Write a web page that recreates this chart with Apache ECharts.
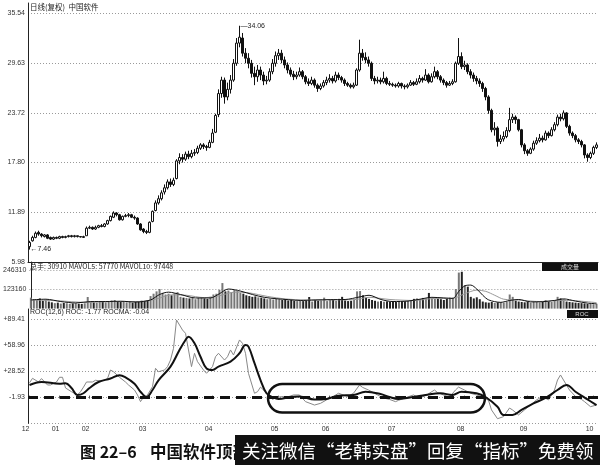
<!DOCTYPE html>
<html><head><meta charset="utf-8">
<script src="https://cdn.jsdelivr.net/npm/echarts@6/dist/echarts.min.js"></script>
<style>html,body{margin:0;padding:0;background:#fff}#c{width:600px;height:465px}</style>
</head><body><div id="c"></div>
<script>
// ---------- DATA ----------
const monthLabels   = ['12','01','02','03','04','05','06','07','08','09','10'];
const monthStartIdx = [0,10,20,39,61,83,100,122,145,166,188];

const opens = [
7.8,8.5,8.9,9.5,9.3,9.0,9.2,8.9,8.7,8.9,
8.8,9.0,8.9,9.0,9.1,9.0,9.1,9.0,8.9,9.1,
10.0,10.1,9.9,10.1,10.3,10.2,10.5,10.9,11.3,11.8,
11.6,11.0,11.4,11.5,11.6,11.3,11.2,10.5,9.9,9.6,
9.5,10.8,12.1,13.0,13.5,14.3,14.8,15.5,15.2,15.9,
18.0,18.4,18.2,18.8,18.5,18.9,19.0,19.5,19.9,19.7,
19.6,20.2,21.4,23.5,26.0,27.6,25.6,26.5,27.6,29.6,
32.0,32.6,30.8,30.2,29.6,28.4,28.0,28.8,28.2,27.5,
27.6,28.6,29.6,30.5,30.8,30.0,29.4,28.8,28.3,28.0,
28.2,28.6,28.0,27.4,27.2,27.6,27.0,26.6,26.9,27.3,
27.6,27.8,27.5,28.2,27.9,27.6,27.2,27.0,26.8,27.0,
28.8,30.8,30.3,30.0,29.6,27.8,27.5,27.6,27.4,27.8,
27.2,27.1,27.0,26.9,27.2,26.9,26.8,27.0,27.3,27.1,
27.4,27.8,27.6,28.2,27.4,28.0,28.6,28.0,27.6,27.3,
27.0,27.2,27.4,29.6,30.4,29.2,29.4,28.6,28.2,27.8,
27.5,27.2,26.6,25.6,24.0,21.7,21.9,20.3,20.6,20.9,
21.6,22.9,23.2,22.9,21.7,19.9,19.2,18.9,19.4,20.1,
20.4,20.7,20.5,21.3,21.0,21.7,22.3,23.2,23.0,23.7,
22.1,21.3,21.0,20.5,20.3,19.9,18.7,18.4,18.9,19.6];

const closes = [
8.3,8.9,9.4,9.3,9.1,9.2,8.8,8.7,8.9,8.8,
9.0,8.9,9.0,9.1,9.0,9.1,9.0,8.95,9.0,10.0,
10.1,9.9,10.1,10.3,10.2,10.5,10.9,11.4,11.8,11.6,
11.0,11.4,11.5,11.6,11.3,11.2,10.5,9.8,9.6,9.5,
10.7,12.0,13.0,13.5,14.2,14.8,15.5,15.2,15.7,18.0,
18.4,18.2,18.8,18.5,18.9,19.0,19.5,19.9,19.7,19.6,
20.2,21.3,23.4,26.0,27.6,25.6,26.5,27.6,29.6,32.0,
32.7,30.8,30.2,29.6,28.4,28.0,28.8,28.2,27.5,27.6,
28.6,29.6,30.5,30.8,30.0,29.4,28.8,28.3,28.0,28.2,
28.6,28.0,27.4,27.2,27.6,27.0,26.6,26.9,27.3,27.6,
27.8,27.5,28.2,27.9,27.6,27.2,27.0,26.8,27.0,28.8,
30.8,30.3,30.0,29.6,27.8,27.5,27.6,27.4,27.8,27.2,
27.1,27.0,26.9,27.2,26.9,26.8,27.0,27.3,27.1,27.4,
27.8,27.6,28.2,27.4,28.0,28.6,28.0,27.6,27.3,27.0,
27.2,27.4,29.6,30.4,29.2,29.4,28.6,28.2,27.8,27.5,
27.2,26.6,25.6,24.0,21.7,21.9,20.3,20.6,20.9,21.6,
22.9,23.2,22.9,21.7,19.9,19.2,18.9,19.4,20.1,20.4,
20.7,20.5,21.3,21.0,21.7,22.3,23.2,23.0,23.7,22.1,
21.3,21.0,20.5,20.3,19.9,18.7,18.4,18.9,19.6,19.9];

const highs = [
8.5,9.1,9.6,9.7,9.4,9.3,9.3,9.0,9.0,9.0,
9.1,9.1,9.1,9.2,9.2,9.2,9.1,9.05,9.1,10.2,
10.3,10.2,10.3,10.4,10.5,10.6,11.0,11.5,12.0,11.9,
11.7,11.5,11.7,11.8,11.7,11.5,11.3,10.6,10.0,9.8,
10.8,12.1,13.3,13.9,14.5,15.2,15.8,15.9,16.0,18.2,
18.9,18.8,19.1,19.2,19.3,19.4,19.8,20.1,20.1,19.9,
20.5,21.8,23.6,26.5,28.0,27.9,27.3,28.2,30.1,32.6,
34.06,33.2,31.4,30.8,30.0,29.2,29.4,29.2,28.6,28.1,
29.0,30.1,31.0,31.3,31.2,30.4,29.7,29.1,28.7,28.6,
29.1,28.8,28.2,27.8,28.0,27.8,27.2,27.2,27.6,28.0,
28.3,28.1,28.6,28.5,28.1,27.8,27.4,27.2,27.3,29.0,
32.4,31.3,30.9,30.4,29.8,28.1,28.0,27.9,28.6,28.0,
27.5,27.3,27.2,27.4,27.3,27.1,27.2,27.6,27.5,27.8,
28.2,28.0,28.9,28.4,28.4,29.2,28.8,28.2,27.8,27.5,
27.5,27.7,29.8,32.6,30.9,29.9,29.6,28.9,28.5,28.1,
27.8,27.4,26.8,25.8,24.2,22.6,22.1,21.1,21.5,22.0,
24.3,23.6,23.4,23.0,21.8,20.1,19.4,19.6,20.4,20.8,
21.2,21.0,21.6,21.5,22.0,22.6,23.5,23.6,24.0,23.8,
22.3,21.5,21.2,20.7,20.5,20.0,18.9,19.1,19.8,20.2];

const lows = [
7.46,8.4,8.8,9.1,8.9,8.9,8.7,8.6,8.6,8.7,
8.7,8.8,8.8,8.9,8.9,8.9,8.9,8.9,8.85,9.1,
9.9,9.8,9.8,10.0,10.1,10.1,10.4,10.8,11.2,11.4,
10.9,10.9,11.3,11.3,11.2,11.0,10.4,9.7,9.4,9.3,
9.4,10.7,12.0,12.8,13.3,14.0,14.6,14.9,15.0,15.8,
17.6,17.8,18.0,18.2,18.3,18.6,18.8,19.3,19.4,19.2,
19.5,20.1,21.3,23.2,25.5,24.8,25.2,26.0,27.4,29.3,
31.5,30.4,29.6,29.0,27.9,27.0,27.4,27.6,27.0,27.1,
27.4,28.3,29.2,30.0,29.6,29.0,28.4,28.0,27.6,27.7,
28.0,27.7,27.1,26.9,27.0,26.7,26.2,26.4,26.7,27.0,
27.3,27.2,27.3,27.6,27.3,26.9,26.8,26.6,26.6,26.9,
28.6,29.9,29.6,29.2,27.5,27.1,27.2,27.1,27.2,27.0,
26.9,26.8,26.7,26.7,26.6,26.5,26.6,26.9,26.9,27.0,
27.2,27.3,27.5,27.2,27.3,27.8,27.7,27.3,27.0,26.7,
26.9,27.0,27.3,29.4,28.9,28.8,28.3,27.8,27.4,27.1,
26.8,26.2,25.2,23.6,21.4,21.0,19.7,20.0,20.3,20.7,
21.4,22.5,22.4,21.5,19.6,18.8,18.6,18.8,19.2,19.9,
20.2,20.2,20.4,20.7,20.9,21.5,22.1,22.7,22.8,21.9,
21.0,20.7,20.2,20.0,19.6,18.3,17.9,18.2,18.7,19.4];

const volumes = [
70000,60000,55000,65000,50000,58000,45000,40000,35000,38000,
32000,36000,34000,30000,33000,35000,31000,30000,34000,74000,
45000,40000,38000,42000,44000,40000,45000,52000,55000,48000,
42000,46000,40000,44000,38000,42000,45000,50000,48000,55000,
80000,95000,110000,125000,100000,90000,95000,85000,98000,105000,
75000,70000,68000,65000,70000,60000,68000,72000,65000,62000,
75000,90000,95000,120000,163000,110000,115000,105000,118000,112000,
100000,95000,85000,80000,75000,78000,72000,70000,65000,60000,
62000,58000,65000,60000,55000,58000,52000,55000,50000,48000,
52000,48000,50000,74000,45000,55000,50000,52000,70000,48000,
55000,58000,50000,62000,75000,52000,48000,50000,58000,110000,
112000,85000,70000,62000,55000,50000,45000,48000,44000,46000,
43000,45000,42000,48000,44000,46000,50000,55000,62000,65000,
60000,68000,65000,100000,70000,62000,65000,60000,55000,62000,
70000,70000,125000,230000,235000,150000,140000,75000,65000,72000,
60000,45000,40000,38000,42000,36000,40000,42000,38000,45000,
90000,75000,50000,45000,42000,40000,44000,38000,42000,45000,
40000,48000,55000,45000,42000,50000,75000,65000,60000,45000,
42000,40000,38000,36000,35000,33000,30000,32000,28000,31000];

// [day index, value] readings of the indicator lines
const mavol5Pts = [[0,55000],[5,60000],[10,45000],[15,36000],[20,45000],[25,45000],[30,47000],[35,42000],[40,55000],[43,90000],[46,105000],[50,90000],[55,68000],[60,68000],[63,95000],[66,125000],[70,112000],[74,90000],[78,72000],[82,63000],[86,57000],[90,52000],[95,55000],[100,57000],[105,58000],[110,75000],[113,85000],[117,58000],[121,45000],[126,48000],[130,60000],[134,72000],[138,68000],[141,65000],[143,110000],[145,145000],[147,150000],[149,125000],[151,85000],[153,55000],[157,40000],[160,52000],[163,58000],[167,43000],[171,44000],[175,52000],[178,62000],[182,48000],[186,35000],[189,31000]];
const mavol10Pts = [[0,55000],[9,50000],[18,40000],[27,45000],[36,45000],[42,62000],[47,88000],[52,85000],[58,70000],[63,82000],[68,105000],[73,100000],[79,78000],[85,62000],[92,55000],[100,56000],[108,57000],[113,72000],[120,58000],[128,52000],[135,65000],[141,66000],[145,95000],[149,118000],[152,110000],[155,85000],[158,60000],[163,55000],[170,45000],[176,52000],[182,50000],[189,38000]];
const rocPts = [[0,15],[1,20.3],[3,16],[4,20],[6,12.5],[7,12.5],[9,16],[10,21.5],[11,21.5],[12,9],[14,4.6],[16,0.8],[17,4.6],[18,10],[19,16],[21,16],[22,18],[24,17],[26,20],[27,30],[28,28],[30,21.5],[32,16],[33,12.5],[35,6.6],[36,0.8],[37,-7],[38,-1.6],[39,-1],[41,10.5],[42,32],[43,28],[45,30],[46,34],[47,41.7],[48,55.4],[49,88.6],[51,76.9],[52,73],[53,53.5],[54,34],[55,49.6],[56,39.8],[58,30],[59,26.2],[61,34],[62,45.6],[63,49.6],[65,41.7],[66,45.6],[67,53.5],[68,47.6],[70,65.2],[71,61.3],[72,49.6],[73,26],[75,2.8],[76,4.6],[77,10],[78,6.6],[80,-1],[81,-4.4],[82,-2.7],[84,-1],[86,-1.6],[88,0.8],[90,0.8],[92,-7],[95,-11],[97,-9],[99,-5],[101,-1.6],[103,2.8],[106,-1],[108,2.8],[110,12.5],[111,9.7],[113,6.6],[115,2.8],[116,0.8],[118,-2.7],[120,-4.4],[122,-7],[123,-5.5],[126,-1.6],[128,0.8],[130,-2.7],[132,0],[135,6.6],[136,3.6],[138,0.8],[140,-1.6],[142,6.6],[143,10],[145,6.6],[147,2.8],[149,0.8],[151,-1.6],[153,-5.5],[154,-16.7],[156,-27],[158,-24.6],[160,-14.5],[161,-16.7],[163,-22.6],[165,-16.7],[167,-11],[169,-5],[171,-1],[173,-5],[175,6.6],[176,18.3],[177,24.2],[178,18.3],[180,6.6],[182,-1],[184,-4.4],[185,-7],[187,-12.9],[189,-11]];
const rocmaPts = [[0,12.5],[4,16],[10,14],[12,14.6],[14,9],[16,0.8],[18,2.8],[20,9],[23,16],[27,20],[30,24],[32,21.5],[35,14],[37,4.6],[39,-1.6],[41,6.6],[43,18],[47,34],[50,53.5],[52,65.2],[53,69],[55,61.3],[57,45.6],[59,32],[61,30],[63,34],[67,39.8],[70,49.6],[72,59.3],[73,57.4],[75,38],[77,18.3],[79,2.8],[81,-1.6],[83,-3.8],[87,-1.6],[90,-1],[95,-4.4],[99,-3.8],[103,0],[108,0.8],[112,4.6],[117,2],[120,-1.6],[123,-3.8],[128,-1.6],[132,0.8],[137,2.8],[141,0.8],[144,4.6],[149,2.8],[152,-1.6],[156,-13],[158,-22.6],[161,-22.6],[164,-16.7],[168,-9],[172,-2.7],[176,6.6],[179,12.5],[182,4.6],[186,-4.4],[189,-11]];

// tick labels
const priceTickLabels = ['5.98','11.89','17.80','23.72','29.63','35.54'];
const priceBase = 5.98, priceStep = 5.912, priceTopK = 5.207;
const volTickLabels = ['', '123160', '246310'];
const volStep = 123155, volTop = 297400;
const rocTickLabels = ['', '-1.93', '+28.52', '+58.96', '+89.41']; // k = -1..3
const rocBase = -1.93, rocStep = 30.445, rocBottomK = -1, rocTopK = 3.396;
const rocRefLine = -1.93;
const highlightDays = [79.5, 151.8];
const highlightRoc = [-19.7, 13.6];

const headerPrice = '日线(复权)  中国软件';
const headerVol = '总手: 30910 MAVOL5: 57770 MAVOL10: 97448';
const headerRoc = 'ROC(12,6) ROC: -1.77 ROCMA: -0.04';
const boxVol = '成交量';
const boxRoc = 'ROC';
const captionNo = '图 22–6';
const captionTitle = '中国软件顶部';
const overlayText = '关注微信“老韩实盘”回复“指标”免费领';

// ---------- CHART ----------
const N = closes.length;
const cats = closes.map((_, i) => String(i));
const candles = closes.map((c, i) => [opens[i], c, lows[i], highs[i]]);
const volData = volumes.map((v, i) => ({ value: v, itemStyle: { color: closes[i] >= opens[i] ? '#777' : '#222' } }));
const hiIdx = highs.indexOf(Math.max(...highs));
const loIdx = lows.indexOf(Math.min(...lows));

const numFont = 'Liberation Sans';
const cjkFont = 'Noto Sans CJK SC';
const gridLine = { show: true, lineStyle: { type: [1, 2], color: '#9a9a9a', width: 1 } };
function stepFmt(labels, offset) {
  return function (v) {
    const k = Math.round(v);
    if (Math.abs(v - k) > 1e-6) return '';
    return labels[k + offset] || '';
  };
}
const labelStyle = { fontSize: 7, color: '#333', fontFamily: numFont, margin: 3 };

const option = {
  animation: false,
  backgroundColor: '#fff',
  grid: [
    { left: 28, right: 2, top: 3, height: 259 },
    { left: 28, right: 2, top: 262, height: 46.6 },
    { left: 28, right: 2, top: 309, height: 114.3 }
  ],
  xAxis: [
    { type: 'category', gridIndex: 0, data: cats, axisLine: { show: true, lineStyle: { color: '#222', width: 1 } }, axisTick: { show: false }, axisLabel: { show: false }, splitLine: { show: false } },
    { type: 'category', gridIndex: 1, data: cats, axisLine: { show: false }, axisTick: { show: false }, axisLabel: { show: false }, splitLine: { show: false } },
    { type: 'value', gridIndex: 1, min: -0.5, max: N - 0.5, show: false },
    { type: 'category', gridIndex: 2, data: cats, axisLine: { show: false },
      axisTick: { show: true, alignWithLabel: true, length: 3, interval: (i) => monthStartIdx.indexOf(i) >= 0, lineStyle: { color: '#555' } },
      axisLabel: Object.assign({}, labelStyle, { margin: 2, align: 'right', interval: (i) => monthStartIdx.indexOf(i) >= 0,
        formatter: (v, i) => { const m = monthStartIdx.indexOf(Number(v)); return m >= 0 ? monthLabels[m] : ''; } }),
      splitLine: { show: false } },
    { type: 'value', gridIndex: 2, min: -0.5, max: N - 0.5, show: false }
  ],
  yAxis: [
    { type: 'value', gridIndex: 0, min: priceBase, max: priceBase + priceTopK * priceStep, show: false },
    { type: 'value', gridIndex: 0, position: 'left', min: 0, max: priceTopK, interval: 1,
      axisLine: { show: true, lineStyle: { color: '#222' } }, axisTick: { show: false },
      axisLabel: Object.assign({}, labelStyle, { showMaxLabel: false, formatter: stepFmt(priceTickLabels, 0) }),
      splitLine: Object.assign({}, gridLine, { showMinLine: false, showMaxLine: false }) },
    { type: 'value', gridIndex: 1, position: 'left', min: 0, max: volTop, interval: volStep,
      axisLine: { show: true, lineStyle: { color: '#222' } }, axisTick: { show: false },
      axisLabel: Object.assign({}, labelStyle, { showMaxLabel: false, showMinLabel: false,
        formatter: (v) => { const k = v / volStep; return Math.abs(k - Math.round(k)) < 1e-6 ? (volTickLabels[Math.round(k)] || '') : ''; } }),
      splitLine: Object.assign({}, gridLine, { showMinLine: false, showMaxLine: false }) },
    { type: 'value', gridIndex: 2, min: rocBase + rocBottomK * rocStep, max: rocBase + rocTopK * rocStep, show: false },
    { type: 'value', gridIndex: 2, position: 'left', min: rocBottomK, max: rocTopK, interval: 1,
      axisLine: { show: true, lineStyle: { color: '#222' } }, axisTick: { show: false },
      axisLabel: Object.assign({}, labelStyle, { showMaxLabel: false, formatter: stepFmt(rocTickLabels, 1) }),
      splitLine: Object.assign({}, gridLine, { showMaxLine: false }) }
  ],
  series: [
    { type: 'candlestick', xAxisIndex: 0, yAxisIndex: 0, data: candles, barWidth: 2,
      itemStyle: { color: '#fff', color0: '#111', borderColor: '#111', borderColor0: '#111', borderWidth: 1 },
      markPoint: { symbol: 'circle', symbolSize: 0, silent: true,
        label: { show: true, position: 'right', distance: 1, fontSize: 7, color: '#222', fontFamily: numFont },
        data: [
          { coord: [cats[hiIdx], highs[hiIdx]], label: { formatter: '—' + highs[hiIdx].toFixed(2) } },
          { coord: [cats[loIdx], lows[loIdx]], label: { formatter: '←' + lows[loIdx].toFixed(2) } }
        ] } },
    { type: 'bar', xAxisIndex: 1, yAxisIndex: 2, data: volData, barWidth: 2 },
    { type: 'line', xAxisIndex: 2, yAxisIndex: 2, data: mavol10Pts, symbol: 'none', smooth: 0.3, lineStyle: { color: '#999', width: 1 } },
    { type: 'line', xAxisIndex: 2, yAxisIndex: 2, data: mavol5Pts, symbol: 'none', smooth: 0.3, lineStyle: { color: '#111', width: 1 } },
    { type: 'line', xAxisIndex: 4, yAxisIndex: 3, data: rocPts, symbol: 'none', lineStyle: { color: '#888', width: 1 },
      markLine: { silent: true, symbol: ['none', 'none'], label: { show: false },
        lineStyle: { type: [10, 6], width: 3, color: '#111' }, data: [{ yAxis: rocRefLine }] } },
    { type: 'line', xAxisIndex: 4, yAxisIndex: 3, data: rocmaPts, symbol: 'none', smooth: 0.4, lineStyle: { color: '#111', width: 2 } }
  ],
  graphic: [
    { type: 'text', left: 30, top: 3, style: { text: headerPrice, fontSize: 7.5, fontFamily: cjkFont, fill: '#222' } },
    { type: 'text', left: 30, top: 263, style: { text: headerVol, fontSize: 7, fontFamily: cjkFont, fill: '#222' } },
    { type: 'text', left: 30, top: 309, style: { text: headerRoc, fontSize: 7, fontFamily: numFont, fill: '#222' } },
    { type: 'rect', shape: { x: 542, y: 263, width: 56, height: 8 }, style: { fill: '#111' } },
    { type: 'text', x: 570, y: 267, style: { text: boxVol, fontSize: 6, fontFamily: cjkFont, fill: '#ddd', align: 'center', verticalAlign: 'middle' } },
    { type: 'rect', shape: { x: 567, y: 310, width: 31, height: 8 }, style: { fill: '#111' } },
    { type: 'text', x: 582, y: 314, style: { text: boxRoc, fontSize: 6, fontFamily: numFont, fill: '#ddd', align: 'center', verticalAlign: 'middle' } },
    { type: 'text', x: 80, y: 452, style: { text: captionNo, fontSize: 16, fontWeight: 'bold', fontFamily: cjkFont, fill: '#111', verticalAlign: 'middle' } },
    { type: 'text', x: 150, y: 452, style: { text: captionTitle, fontSize: 16.5, fontWeight: 'bold', fontFamily: cjkFont, fill: '#111', verticalAlign: 'middle' } },
    { type: 'rect', shape: { x: 235, y: 435, width: 365, height: 30 }, style: { fill: '#111' } },
    { type: 'text', x: 242, y: 451, style: { text: overlayText, fontSize: 18.5, fontFamily: cjkFont, fill: '#fff', verticalAlign: 'middle' } }
  ]
};

const chart = echarts.init(document.getElementById('c'), null, { renderer: 'canvas' });
chart.setOption(option);

// highlight box around the flat ROC zone, placed in data units
const rocSeriesIdx = 4;
const pA = chart.convertToPixel({ seriesIndex: rocSeriesIdx }, [highlightDays[0], highlightRoc[1]]);
const pB = chart.convertToPixel({ seriesIndex: rocSeriesIdx }, [highlightDays[1], highlightRoc[0]]);
const g = option.graphic.slice();
g.push({ type: 'rect', z: 100, shape: { x: pA[0], y: pA[1], width: pB[0] - pA[0], height: pB[1] - pA[1], r: (pB[1] - pA[1]) / 2 },
  style: { fill: 'none', stroke: '#111', lineWidth: 2.5 } });
chart.setOption({ graphic: g }, { replaceMerge: ['graphic'] });
</script>
</body></html>
